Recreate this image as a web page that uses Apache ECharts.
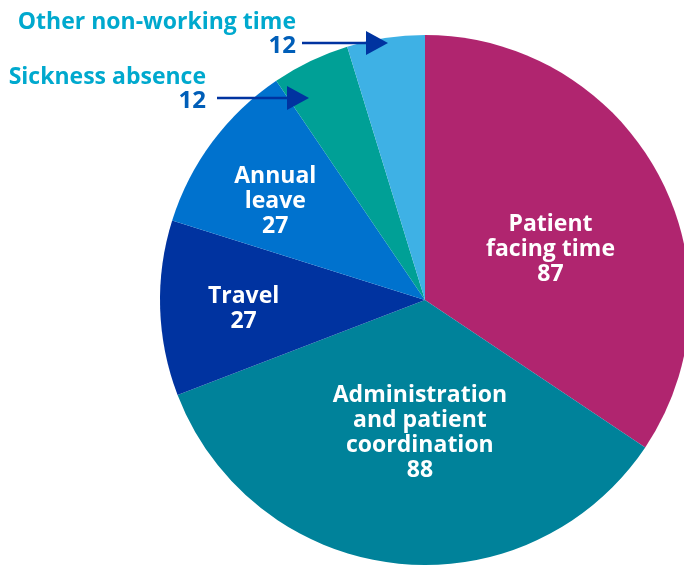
<!DOCTYPE html>
<html><head><meta charset="utf-8">
<script src="https://cdn.jsdelivr.net/npm/echarts@6/dist/echarts.min.js"></script>
<style>html,body{margin:0;padding:0;background:#fff}#c{width:684px;height:565px}</style>
</head><body><div id="c"></div>
<script>
const categories = ['Patient\nfacing time', 'Administration\nand patient\ncoordination', 'Travel', 'Annual\nleave', 'Sickness absence', 'Other non-working time'];
const values = [87, 88, 27, 27, 12, 12];
const colors = ['#B0256F', '#00829A', '#0033A0', '#0072CE', '#00A096', '#3EB1E5'];

const FONT = '"Open Sans", "Noto Sans", sans-serif';
// label offsets for inside labels
const insideOffsets = [[6, 13], [10, -2], [-46, 5], [-41, -18]];
// outside label anchor (right edge x, centre y of block)
const outsideAnchors = {4: [206, 89], 5: [296, 34]};

const data = categories.map((name, i) => {
  const item = { name: name, value: values[i], itemStyle: { color: colors[i] } };
  if (i >= 4) {
    item.label = {
      show: true,
      position: 'outside',
      formatter: '{n|{b}}\n{v|{c}}',
      align: 'right',
      rich: {
        n: { color: '#00A9CE', fontSize: 23, fontWeight: 'bold', fontFamily: FONT, lineHeight: 24, align: 'right' },
        v: { color: '#005EB8', fontSize: 24, fontWeight: 'bold', fontFamily: FONT, lineHeight: 24, align: 'right' }
      }
    };
    item.labelLine = { show: false };
  }
  return item;
});

const chart = echarts.init(document.getElementById('c'), null, { renderer: 'canvas' });

function arrow(x1, x2, y) {
  return {
    type: 'group',
    z: 100,
    children: [
      { type: 'line', z: 100, shape: { x1: x1, y1: y, x2: x2 - 18, y2: y }, style: { stroke: '#0033A0', lineWidth: 2.5 } },
      { type: 'polygon', z: 100, shape: { points: [[x2 - 22, y - 12], [x2, y], [x2 - 22, y + 12]] }, style: { fill: '#0033A0' } }
    ]
  };
}

chart.setOption({
  animation: false,
  series: [{
    type: 'pie',
    center: [425, 300],
    radius: [0, 265],
    startAngle: 90,
    clockwise: true,
    avoidLabelOverlap: false,
    label: {
      show: true,
      position: 'inside',
      formatter: '{b}\n{c}',
      color: '#fff',
      fontSize: 23,
      fontWeight: 'bold',
      fontFamily: FONT,
      lineHeight: 25,
      align: 'center'
    },
    labelLayout: function (p) {
      const i = p.dataIndex;
      if (outsideAnchors[i]) {
        const a = outsideAnchors[i];
        return { x: a[0], y: a[1], align: 'right', verticalAlign: 'middle' };
      }
      const o = insideOffsets[i];
      return { dx: o[0], dy: o[1] };
    },
    emphasis: { disabled: true },
    data: data
  }],
  graphic: [arrow(302, 388, 43), arrow(217, 309, 98)]
});
</script>
</body></html>
